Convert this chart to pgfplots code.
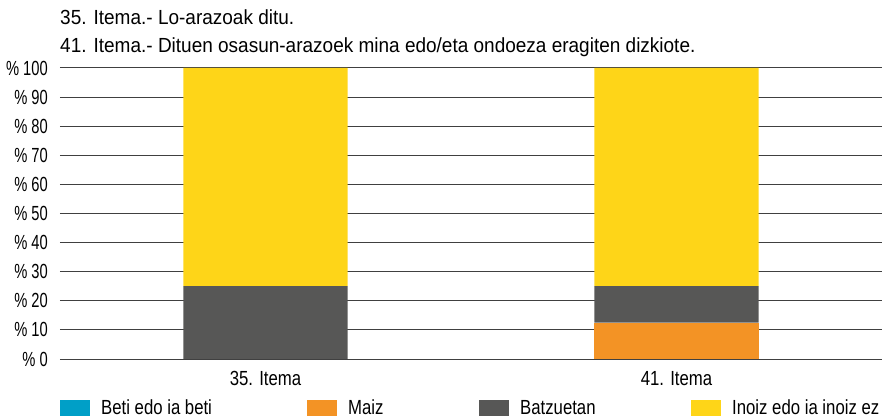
\documentclass[border=0pt]{standalone}
\usepackage{fontspec}
\setmainfont{Liberation Sans}[FakeStretch=0.82]
\newfontfamily\narrowfont{Liberation Sans}[FakeStretch=0.72]
\newfontfamily\titlefont{Liberation Sans}[FakeStretch=0.93]
\usepackage{pgfplots}
\pgfplotsset{compat=1.18}
\definecolor{cBeti}{HTML}{009FC7}
\definecolor{cMaiz}{HTML}{F39325}
\definecolor{cBatz}{HTML}{575756}
\definecolor{cInoiz}{HTML}{FED518}
\begin{document}
\begin{tikzpicture}
\begin{axis}[name=ax,
  at={(0,0)}, anchor=south west,
  scale only axis, width=822bp, height=291bp,
  ybar stacked, bar width=0.4,
  xmin=-0.5, xmax=1.5, ymin=0, ymax=100,
  xtick={0,1}, xticklabels={35. Itema, 41. Itema},
  ytick={0,10,...,100},
  yticklabel={\%~\pgfmathprintnumber[assume math mode=true]{\tick}},
  axis line style={draw=none},
  major tick length=0pt,
  ymajorgrids, grid style={draw=black!75, line width=1bp},
  axis on top=false,
  yticklabel style={font=\narrowfont\fontsize{20.5}{24}\selectfont, anchor=east, inner sep=0pt, xshift=-12bp},
  xticklabel style={font=\fontsize{20.5}{24}\selectfont, anchor=base, inner sep=0pt, yshift=-26bp},
  legend columns=4,
  legend style={draw=none, at={(0,0)}, anchor=west, yshift=-49bp,
    inner xsep=0pt, inner ysep=0pt,
    nodes={inner sep=0pt, font=\fontsize{20.5}{24}\selectfont},
    column sep=0pt},
  legend image code/.code={\fill[#1] (0bp,-8bp) rectangle (30bp,8bp);},
  legend cell align=left,
]
\addplot[fill=cBeti, draw=none] coordinates {(0,0) (1,0)};
\addplot[fill=cMaiz, draw=none] coordinates {(0,0) (1,12.5)};
\addplot[fill=cBatz, draw=none] coordinates {(0,25) (1,12.5)};
\addplot[fill=cInoiz, draw=none] coordinates {(0,75) (1,75)};
\legend{\hspace{11bp}\makebox[206bp][l]{Beti edo ia beti},
        \hspace{11bp}\makebox[131bp][l]{Maiz},
        \hspace{11bp}\makebox[171bp][l]{Batzuetan},
        \hspace{11bp}Inoiz edo ia inoiz ez}
\end{axis}
\node[anchor=base west, inner sep=0pt, font=\titlefont\fontsize{20.5}{24}\selectfont] at ([yshift=43bp]ax.north west) {35. Itema.- Lo-arazoak ditu.};
\node[anchor=base west, inner sep=0pt, font=\titlefont\fontsize{20.5}{24}\selectfont] at ([yshift=15bp]ax.north west) {41. Itema.- Dituen osasun-arazoek mina edo/eta ondoeza eragiten dizkiote.};
\path (ax.south west) ++(-60bp,-60bp) rectangle ++(888bp,419bp);
\end{tikzpicture}
\end{document}
